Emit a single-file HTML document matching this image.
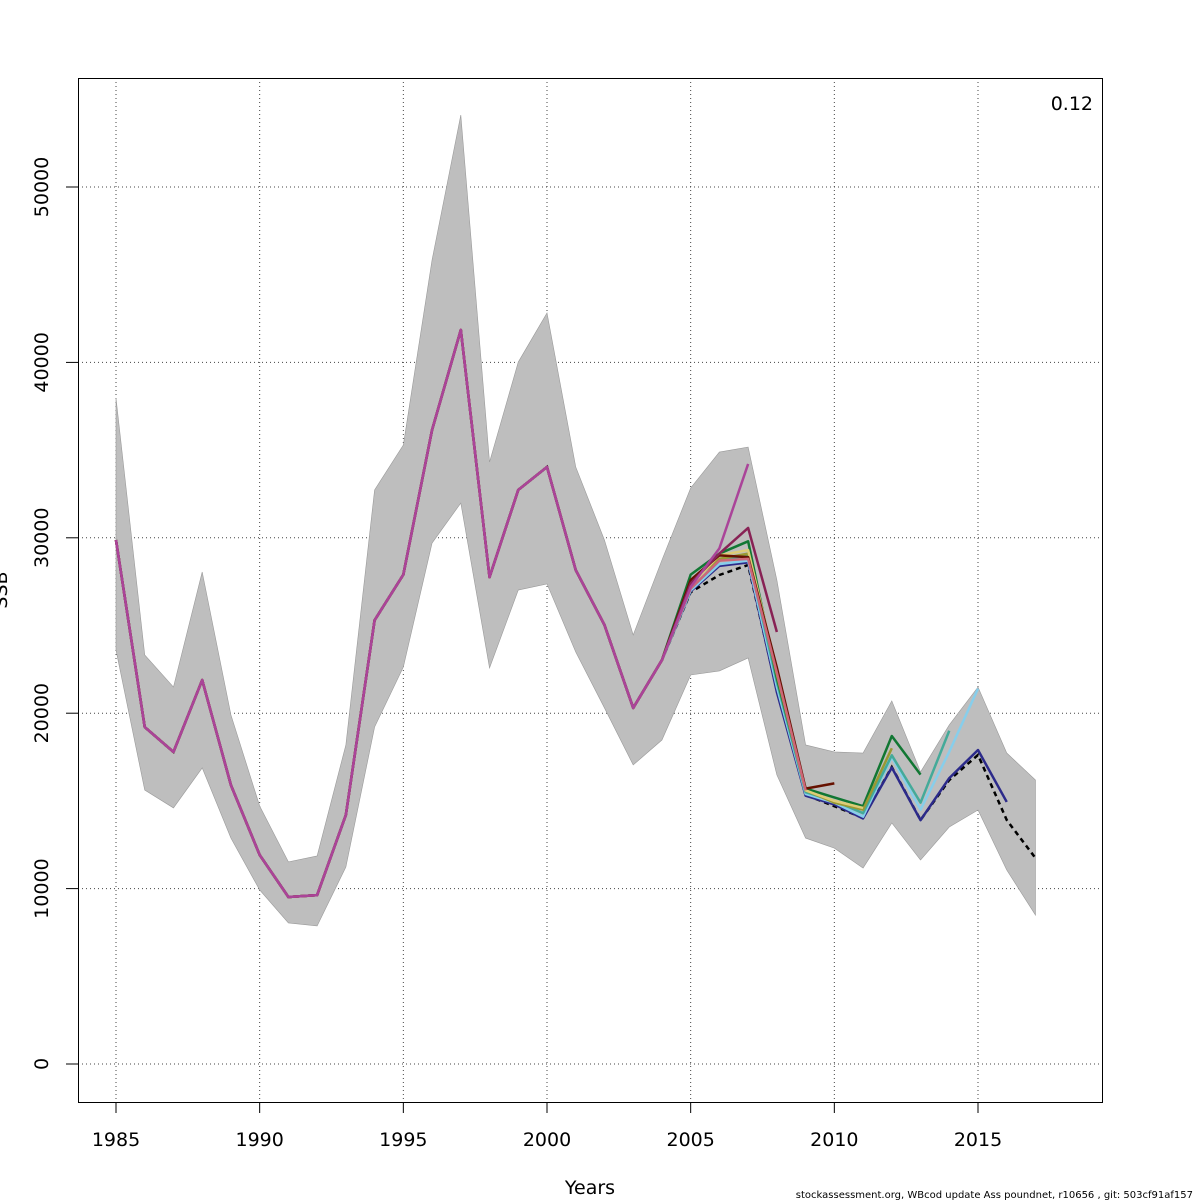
<!DOCTYPE html>
<html><head><meta charset="utf-8"><style>
html,body{margin:0;padding:0;background:#fff;}
svg{display:block;font-family:"DejaVu Sans","Liberation Sans",sans-serif;}
</style></head><body>
<svg id="chart" width="1200" height="1200" viewBox="0 0 1200 1200" xmlns="http://www.w3.org/2000/svg">
<rect x="0" y="0" width="1200" height="1200" fill="#fff"/>
<g id="grid"></g>
<g id="band"></g>
<g id="lines"></g>
<rect x="78.5" y="78.5" width="1024" height="1024" fill="none" stroke="#000" stroke-width="1"/>
<g id="axes"></g>
<text x="1093" y="110" font-size="19" text-anchor="end">0.12</text>
<text x="590" y="1194" font-size="19" text-anchor="middle">Years</text>
<text transform="translate(7,590) rotate(-90)" font-size="19" text-anchor="middle">SSB</text>
<text x="1193" y="1198" font-size="10" text-anchor="end">stockassessment.org, WBcod  update  Ass  poundnet, r10656 , git: 503cf91af157</text>
</svg>
<script>
const years = [1985,1986,1987,1988,1989,1990,1991,1992,1993,1994,1995,1996,1997,1998,1999,2000,2001,2002,2003,2004,2005,2006,2007,2008,2009,2010,2011,2012,2013,2014,2015,2016,2017];
const base = [29870,19210,17790,21890,15900,11920,9520,9630,14200,25300,27900,36150,41850,27760,32730,34040,28160,25030,20300,23030,26900,27880,28450,21300,15340,14700,14030,16930,13910,16190,17620,13910,11740];
const upper = [37970,23320,21490,28050,19900,14710,11520,11860,18190,32730,35290,45840,54100,34320,40020,42820,34040,29870,24460,28730,32840,34890,35170,27590,18190,17790,17730,20700,16650,19330,21490,17730,16190];
const lower = [23600,15620,14600,16880,12880,9920,8040,7870,11230,19210,22630,29700,31980,22580,27020,27370,23490,20300,17050,18470,22180,22410,23150,16480,12880,12310,11170,13740,11630,13510,14480,11060,8490];
const tailStart = 2005;
const peelTails = [
  [26950,28400,28600,21200,15300,14800,14000,16900,13900,16300,17900,14940],
  [27000,28500,28700,21500,15400,14900,14100,17500,14500,17800,21400],
  [27100,28700,29000,21800,15500,15000,14300,17600,14900,19000],
  [27900,29100,29800,22000,15700,15200,14700,18700,16500],
  [27500,28800,29100,22200,15600,14900,14500,18000],
  [27300,29000,29300,22400,15600,15000,14600],
  [27600,29000,28900,22600,15700,16000],
  [27100,28700,28800,22300,15600],
  [27400,29100,30560,24630],
  [27200,29400,34210]
];
const peelColors = ["#2c2a8a","#87ceeb","#44aa99","#117733","#999933","#ddcc77","#661100","#cc6677","#882255","#aa4499"];
const xTicks = [1985,1990,1995,2000,2005,2010,2015];
const yTicks = [0,10000,20000,30000,40000,50000];

const NS="http://www.w3.org/2000/svg";
function X(yr){return 116+(yr-1985)*(978-116)/30;}
function Y(v){return 1064-v*(1064-187)/50000;}
function mk(tag,attrs,parent){const e=document.createElementNS(NS,tag);for(const k in attrs)e.setAttribute(k,attrs[k]);parent.appendChild(e);return e;}
const grid=document.getElementById('grid'),band=document.getElementById('band'),lines=document.getElementById('lines'),axes=document.getElementById('axes');
xTicks.forEach(t=>{
  const l=mk('line',{x1:X(t),x2:X(t),y1:78,y2:1102,stroke:'#444','stroke-width':1,'stroke-dasharray':'1,3'},grid);
  
  
  const tk=mk('line',{x1:X(t),x2:X(t),y1:1102,y2:1113,stroke:'#000'},axes);
  
  
  const tx=mk('text',{x:X(t),y:1146,'font-size':19,'text-anchor':'middle'},axes);tx.textContent=t;
  
  
});
yTicks.forEach(t=>{
  const l=mk('line',{x1:78,x2:1102,y1:Y(t),y2:Y(t),stroke:'#444','stroke-width':1,'stroke-dasharray':'1,3'},grid);
  
  
  const tk=mk('line',{x1:66,x2:78,y1:Y(t),y2:Y(t),stroke:'#000'},axes);
  
  
  const tx=mk('text',{transform:`translate(48,${Y(t)}) rotate(-90)`,'font-size':19,'text-anchor':'middle'},axes);tx.textContent=t;
  
  
});
let pts=years.map((y,i)=>X(y)+','+Y(upper[i]));
for(let i=years.length-1;i>=0;i--)pts.push(X(years[i])+','+Y(lower[i]));
const poly=mk('polygon',{points:pts.join(' '),fill:'#bebebe',stroke:'#9a9a9a','stroke-width':0.6},band);


const baseLine=mk('polyline',{points:years.map((y,i)=>X(y)+','+Y(base[i])).join(' '),fill:'none',stroke:'#000','stroke-width':2.5,'stroke-dasharray':'5,4'},lines);


peelTails.forEach((tail,p)=>{
  const p2=[];
  years.forEach((y,i)=>{if(y<tailStart)p2.push(X(y)+','+Y(base[i]));});
  tail.forEach((v,j)=>p2.push(X(tailStart+j)+','+Y(v)));
  const pl=mk('polyline',{points:p2.join(' '),fill:'none',stroke:peelColors[p],'stroke-width':2.5,'stroke-linejoin':'round'},lines);
  
  
});
</script>
</body></html>
